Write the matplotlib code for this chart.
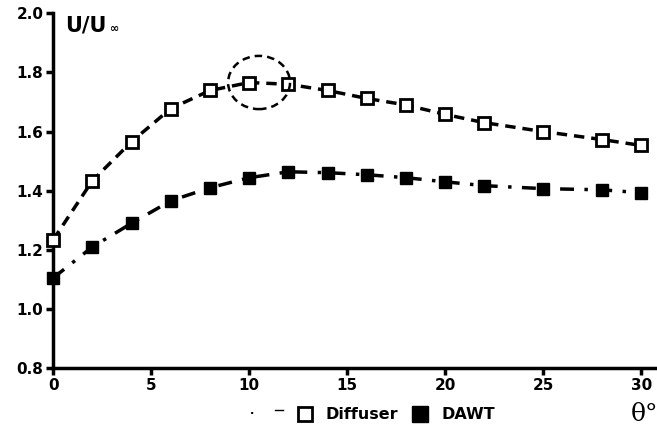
import numpy as np
import matplotlib.pyplot as plt
from matplotlib.lines import Line2D
from matplotlib.patches import Ellipse

theta = [0, 2, 4, 6, 8, 10, 12, 14, 16, 18, 20, 22, 25, 28, 30]
diffuser = [1.234, 1.434, 1.566, 1.678, 1.739, 1.766, 1.760, 1.739, 1.712, 1.690,
            1.658, 1.630, 1.600, 1.573, 1.553]
dawt = [1.105, 1.210, 1.290, 1.366, 1.410, 1.444, 1.464, 1.461, 1.454, 1.444,
        1.430, 1.417, 1.407, 1.403, 1.393]

plt.rcParams['font.family'] = 'DejaVu Sans'
plt.rcParams['font.weight'] = 'bold'

fig = plt.figure(figsize=(6.57, 4.30), dpi=100)
ax = fig.add_axes([0.081, 0.144, 0.916, 0.825])

ax.plot(theta, diffuser, color='black', linewidth=2.5, linestyle=(0, (3, 2)),
        marker='s', markersize=9, markerfacecolor='white', markeredgewidth=2,
        markeredgecolor='black', clip_on=False, zorder=4)
ax.plot(theta, dawt, color='black', linewidth=2.5, linestyle=(0, (4, 3, 1, 3)),
        marker='s', markersize=9, markerfacecolor='black', markeredgecolor='black',
        clip_on=False, zorder=4)

# dashed circle highlighting the peak
ax.add_patch(Ellipse((10.5, 1.766), 3.16, 0.18, fill=False, edgecolor='black',
                     linewidth=1.8, linestyle=(0, (3, 2)), zorder=5))

ax.set_xlim(0, 30.7)
ax.set_ylim(0.8, 2.0)
ax.set_xticks([0, 5, 10, 15, 20, 25, 30])
ax.set_yticks([0.8, 1.0, 1.2, 1.4, 1.6, 1.8, 2.0])
ax.set_yticklabels(['0.8', '1.0', '1.2', '1.4', '1.6', '1.8', '2.0'])

for s in ['top', 'right']:
    ax.spines[s].set_visible(False)
for s in ['left', 'bottom']:
    ax.spines[s].set_linewidth(2.5)
ax.tick_params(width=2.5, length=5, labelsize=11, pad=2)
for lbl in ax.get_xticklabels() + ax.get_yticklabels():
    lbl.set_fontweight('bold')

fig.text(0.099, 0.926, 'U/U', fontsize=15, fontweight='bold', va='baseline')
fig.text(0.167, 0.926, '∞', fontsize=8, fontweight='bold', va='baseline')
fig.text(0.96, 0.022, 'θ°', fontsize=18, fontweight='normal', family='DejaVu Serif')

handles = [Line2D([], [], color='black', marker='s', markersize=10, markerfacecolor='white',
                  markeredgewidth=2, linestyle='none'),
           Line2D([], [], color='black', marker='s', markersize=11, markerfacecolor='black',
                  linestyle='none')]
fig.legend(handles, ['Diffuser', 'DAWT'], loc='center left', bbox_to_anchor=(0.432, 0.035),
           ncol=2, frameon=False, handlelength=0.8, handletextpad=0.9,
           columnspacing=1.0, prop={'weight': 'bold', 'size': 11.5})
fig.add_artist(Line2D([0.418, 0.431], [0.046, 0.046], color='black', linewidth=1))
fig.text(0.381, 0.03, '·', fontsize=8)

fig.savefig('out.png', dpi=100)
